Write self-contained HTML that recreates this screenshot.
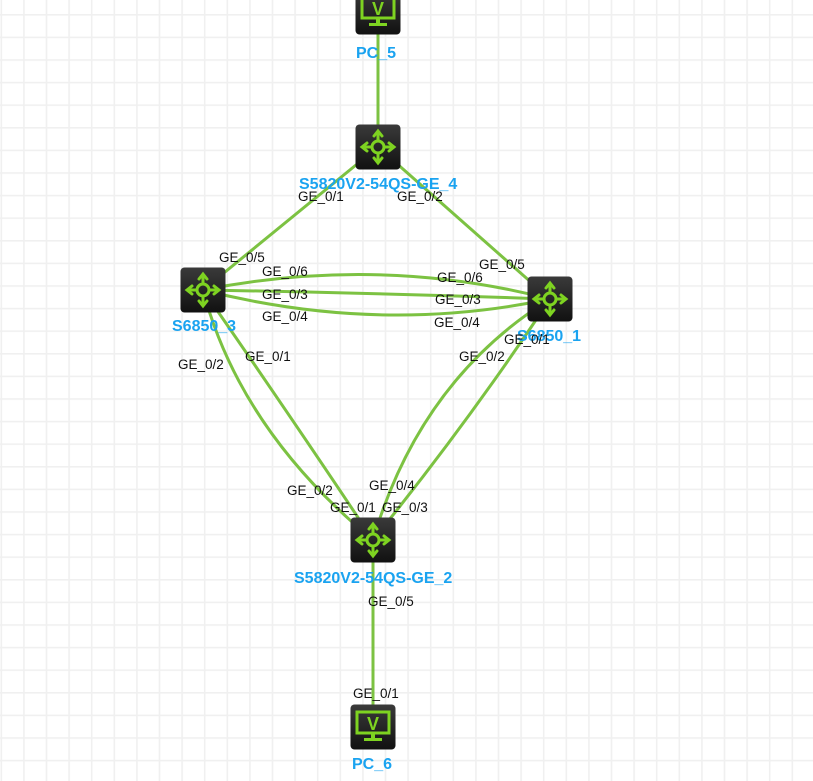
<!DOCTYPE html>
<html><head><meta charset="utf-8"><style>
html,body{margin:0;padding:0;background:#fff}
svg{display:block}
.l{font-family:"Liberation Sans",sans-serif;font-size:13.5px;fill:#111}
.n{font-family:"Liberation Sans",sans-serif;font-size:16px;font-weight:bold;fill:#1aa3f0}
</style></head><body>
<svg width="813" height="781" viewBox="0 0 813 781" xmlns="http://www.w3.org/2000/svg">
<defs>
<pattern id="g" width="22.6" height="22.6" patternUnits="userSpaceOnUse" x="0.5" y="14">
<rect x="0" y="0" width="22.6" height="1.6" fill="#f0f0f0"/>
<rect x="0" y="0" width="1.6" height="22.6" fill="#f0f0f0"/>
</pattern>
<linearGradient id="bg" x1="0" y1="0" x2="0" y2="1"><stop offset="0" stop-color="#3a3a3a"/><stop offset="1" stop-color="#111"/></linearGradient>
<g id="sw">
<rect x="-22.5" y="-22.5" width="45" height="45" rx="4" fill="url(#bg)"/>
<g stroke="#7ed321" stroke-width="3" fill="none" stroke-linecap="round">
<circle r="6"/>
<line x1="0" y1="-6" x2="0" y2="-15"/><line x1="0" y1="6" x2="0" y2="15"/>
<line x1="-6" y1="0" x2="-15" y2="0"/><line x1="6" y1="0" x2="15" y2="0"/>
<polyline points="-4,-11 0,-16 4,-11"/><polyline points="-4,11 0,16 4,11"/>
<polyline points="-11,-4 -16,0 -11,4"/><polyline points="11,-4 16,0 11,4"/>
</g></g>
<g id="pc">
<rect x="-22.5" y="-22.5" width="45" height="45" rx="4" fill="url(#bg)"/>
<rect x="-16" y="-15" width="32" height="21" fill="none" stroke="#7ed321" stroke-width="3"/>
<text x="0" y="3" text-anchor="middle" font-family="Liberation Sans" font-weight="bold" font-size="18" fill="#7ed321">V</text>
<rect x="-2" y="6" width="4" height="5" fill="#7ed321"/>
<rect x="-9" y="11" width="18" height="3" fill="#7ed321"/>
</g>
</defs>
<rect width="813" height="781" fill="url(#g)"/>
<g stroke="#7cc242" stroke-width="3" fill="none">
<line x1="378" y1="12" x2="378" y2="147"/>
<line x1="378" y1="147" x2="203" y2="290"/>
<line x1="378" y1="147" x2="550" y2="299"/>
<path d="M203,290 Q380,255 550,299"/>
<path d="M203,290 Q380,293 550,299"/>
<path d="M203,290 Q380,335 550,299"/>
<path d="M203,290 Q240,430 373,540"/>
<path d="M203,290 Q300,430 373,540"/>
<path d="M550,299 Q420,380 373,540"/>
<path d="M550,299 Q470,420 373,540"/>
<line x1="373" y1="540" x2="373" y2="727"/>
</g>
<use href="#pc" x="378" y="12"/>
<use href="#sw" x="378" y="147"/>
<use href="#sw" x="203" y="290"/>
<use href="#sw" x="550" y="299"/>
<use href="#sw" x="373" y="540"/>
<use href="#pc" x="373" y="727"/>
<text class="n" x="356" y="58">PC_5</text>
<text class="n" x="299" y="189">S5820V2-54QS-GE_4</text>
<text class="n" x="172" y="331">S6850_3</text>
<text class="n" x="517" y="341">S6850_1</text>
<text class="n" x="294" y="583">S5820V2-54QS-GE_2</text>
<text class="n" x="352" y="769">PC_6</text>
<g class="l">
<text x="298" y="201">GE_0/1</text>
<text x="397" y="201">GE_0/2</text>
<text x="219" y="262">GE_0/5</text>
<text x="262" y="276">GE_0/6</text>
<text x="262" y="299">GE_0/3</text>
<text x="262" y="321">GE_0/4</text>
<text x="479" y="269">GE_0/5</text>
<text x="437" y="282">GE_0/6</text>
<text x="435" y="304">GE_0/3</text>
<text x="434" y="327">GE_0/4</text>
<text x="504" y="344">GE_0/1</text>
<text x="459" y="361">GE_0/2</text>
<text x="245" y="361">GE_0/1</text>
<text x="178" y="369">GE_0/2</text>
<text x="369" y="490">GE_0/4</text>
<text x="287" y="495">GE_0/2</text>
<text x="330" y="512">GE_0/1</text>
<text x="382" y="512">GE_0/3</text>
<text x="368" y="606">GE_0/5</text>
<text x="353" y="698">GE_0/1</text>
</g>
</svg>
</body></html>
